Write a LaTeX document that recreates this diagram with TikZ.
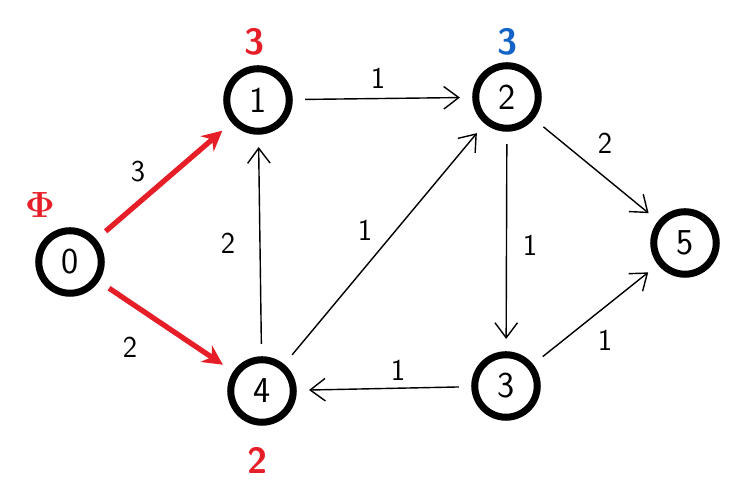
\documentclass[tikz,border=0pt]{standalone}
\usepackage{amsmath}
\usepackage{xcolor}
\usepackage{tikz}
\usetikzlibrary{shapes,arrows.meta,positioning}
\definecolor{hred}{RGB}{230,30,40}
\definecolor{hblue}{RGB}{20,100,200}

\begin{document}
\begin{tikzpicture}[
  vert/.style={draw, circle, line width=4pt, minimum size=1.25cm, inner sep=0pt, font=\huge\sffamily},
  edge/.style={-{Straight Barb[length=3mm, width=4.5mm]}, line width=0.8pt, shorten >=7pt, shorten <=7pt},
  redge/.style={-{Stealth[length=4mm, width=4mm]}, line width=3pt, draw=hred, shorten >=7pt, shorten <=7pt},
  wlab/.style={font=\LARGE\sffamily},
  dlab/.style={font=\huge\sffamily\bfseries}
]
\useasboundingbox (0,0) rectangle (15,10.02);

% Vertices
\node[vert] (v0) at (1.4,4.78) {0};
\node[vert] (v1) at (5.16,8.02) {1};
\node[vert] (v2) at (10.14,8.08) {2};
\node[vert] (v3) at (10.12,2.3) {3};
\node[vert] (v4) at (5.24,2.2) {4};
\node[vert] (v5) at (13.7,5.16) {5};

% Distances
\node[dlab, text=hred] (d0) at (0.8,5.92) {$\boldsymbol{\Phi}$};
\node[dlab, text=hred] (d1) at (5.1,9.18) {3};
\node[dlab, text=hblue] (d2) at (10.16,9.18) {3};
\node[dlab, text=hred] (d4) at (5.16,0.82) {2};

% Edges
\draw[redge] (v0) -- (v1);
\draw[redge] (v0) -- (v4);
\draw[edge] (v1) -- (v2);
\draw[edge] (v4) -- (v1);
\draw[edge] (v4) -- (v2);
\draw[edge] (v2) -- (v3);
\draw[edge] (v2) -- (v5);
\draw[edge] (v3) -- (v4);
\draw[edge] (v3) -- (v5);

% Weights
\node[wlab] (w01) at (2.76,6.58) {3};
\node[wlab] (w04) at (2.6,3.08) {2};
\node[wlab] (w12) at (7.56,8.46) {1};
\node[wlab] (w41) at (4.56,5.16) {2};
\node[wlab] (w42) at (7.3,5.42) {1};
\node[wlab] (w23) at (10.6,5.12) {1};
\node[wlab] (w25) at (12.1,7.16) {2};
\node[wlab] (w34) at (7.96,2.62) {1};
\node[wlab] (w35) at (12.1,3.22) {1};

\end{tikzpicture}
\end{document}
